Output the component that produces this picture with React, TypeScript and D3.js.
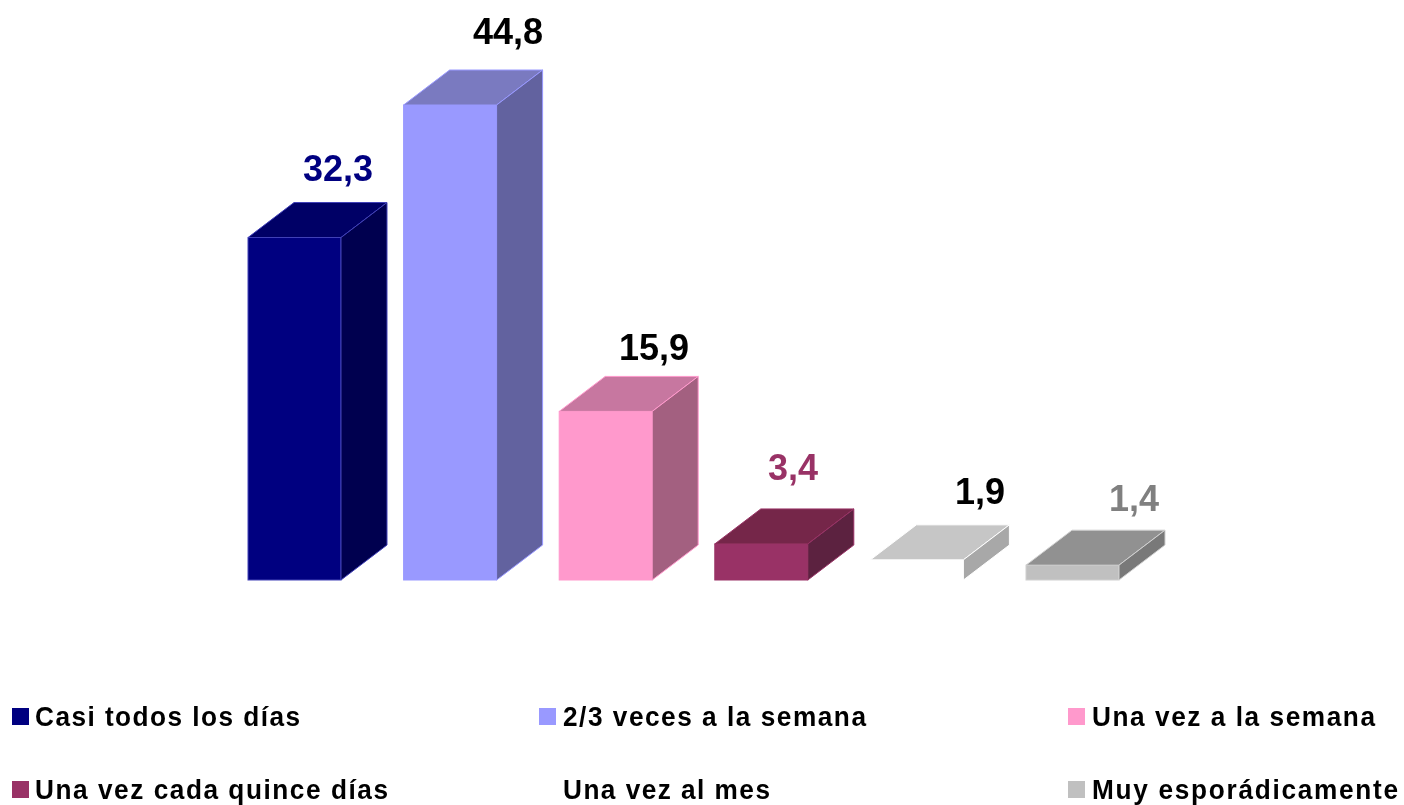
import React from "react";
import * as d3 from "d3";

const categories = ["Casi todos los días", "2/3 veces a la semana", "Una vez a la semana", "Una vez cada quince días", "Una vez al mes", "Muy esporádicamente"];
const values = [32.3, 44.8, 15.9, 3.4, 1.9, 1.4];
const valueLabels = ["32,3", "44,8", "15,9", "3,4", "1,9", "1,4"];
const frontColors = ["#000080", "#9999ff", "#ff99cc", "#993366", "#ffffff", "#c0c0c0"];
const topColors = ["#000066", "#7a7ac0", "#c777a0", "#752848", "#c6c6c6", "#919191"];
const sideColors = ["#00004f", "#62629f", "#a36080", "#5c2040", "#a8a8a8", "#797979"];
const edgeColors = ["#4040b8", "#9999ff", "#ff99cc", "#993366", "#ffffff", "#d0d0d0"];
const labelColors = ["#000080", "#000000", "#000000", "#993366", "#000000", "#808080"];
const labelX = [338, 508, 654, 793, 980, 1134];
const labelY = [181, 44, 360, 480, 504, 511];
const legendRow = [0, 0, 0, 1, 1, 1];
const legendCol = [0, 1, 2, 0, 1, 2];
const legendSwatchX = [12, 539, 1068];
const legendTextX = [35, 563, 1092];
const legendTextWidth = [265, 303, 283, 353, 207, 306];
const legendRowY = [726, 799];

const W = 1404, H = 805;
const DX = 46, DY = 35;
const LEGEND_SQUEEZE = 0.92;
const FONT = "'Liberation Sans', Arial, sans-serif";

export default function App() {
  const bw = 93;
  const xPos = d3.scaleLinear().domain([0, 5]).range([248, 1026]);
  const y = d3.scaleLinear().domain([0, 44.8]).range([580, 105]);
  return (
    <svg width={W} height={H} viewBox={`0 0 ${W} ${H}`} style={{ position: "fixed", left: 0, top: 0, background: "#fff" }}>
      <defs>
        <filter id="soft" x="-5%" y="-5%" width="110%" height="110%">
          <feGaussianBlur stdDeviation="0.55" />
        </filter>
      </defs>
      <g filter="url(#soft)">
        {values.map((v, i) => {
          const x0 = xPos(i), x1 = x0 + bw, t = y(v), b = y(0);
          const top = d3.path();
          top.moveTo(x0, t); top.lineTo(x0 + DX, t - DY); top.lineTo(x1 + DX, t - DY); top.lineTo(x1, t); top.closePath();
          const side = d3.path();
          side.moveTo(x1, t); side.lineTo(x1 + DX, t - DY); side.lineTo(x1 + DX, b - DY); side.lineTo(x1, b); side.closePath();
          return (
            <g key={i} stroke={edgeColors[i]} strokeWidth={1}>
              <rect x={x0} y={t} width={bw} height={b - t} fill={frontColors[i]} />
              <path d={top.toString()} fill={topColors[i]} />
              <path d={side.toString()} fill={sideColors[i]} />
            </g>
          );
        })}
        {values.map((v, i) => (
          <text key={i} x={labelX[i]} y={labelY[i]} textAnchor="middle" fontFamily={FONT} fontWeight="bold" fontSize={36} fill={labelColors[i]}>{valueLabels[i]}</text>
        ))}
        {categories.map((c, i) => (
          <g key={c}>
            <rect x={legendSwatchX[legendCol[i]]} y={legendRowY[legendRow[i]] - 18} width={17} height={17} fill={frontColors[i]} />
            <text
              transform={`translate(${legendTextX[legendCol[i]]},${legendRowY[legendRow[i]]}) scale(${LEGEND_SQUEEZE},1)`}
              fontFamily={FONT} fontWeight="bold" fontSize={28.5} fill="#000"
              textLength={legendTextWidth[i] / LEGEND_SQUEEZE} lengthAdjust="spacing">{c}</text>
          </g>
        ))}
      </g>
    </svg>
  );
}
